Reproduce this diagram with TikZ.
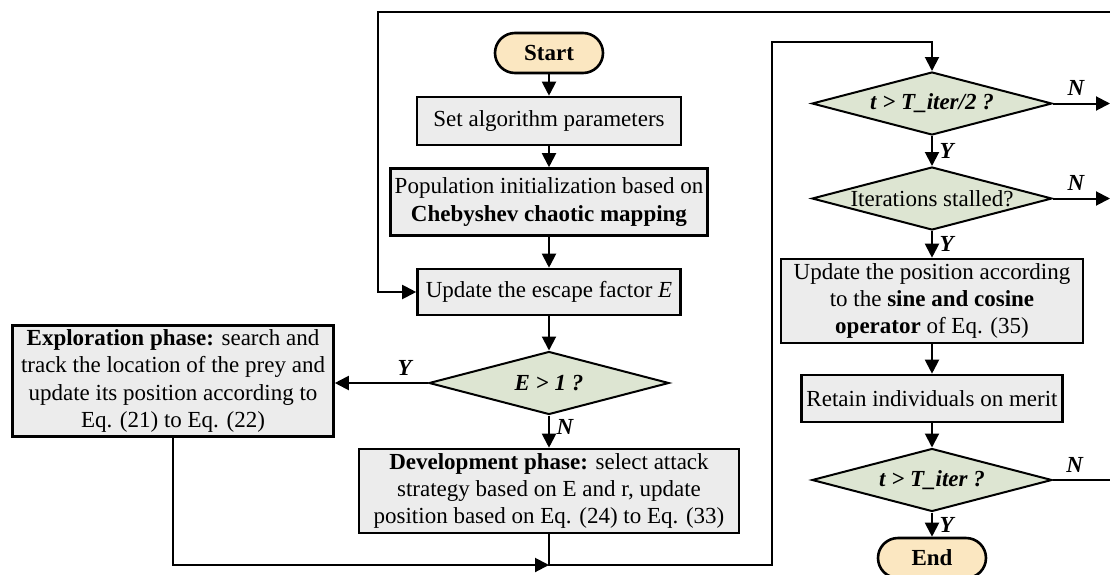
\documentclass[tikz,border=0pt]{standalone}
\usepackage{fontspec}
\setmainfont{Liberation Serif}
\usepackage{tikz}
\usetikzlibrary{arrows.meta,shapes.geometric}
\definecolor{flowtan}{HTML}{FBE7C1}
\definecolor{flowgreen}{HTML}{DDE5D2}
\definecolor{flowgray}{HTML}{ECECEC}

\begin{document}
\begin{tikzpicture}[x=0.5pt,y=-0.5pt,font=\fontsize{11.5}{13.6}\selectfont,
    >={Triangle[length=7pt,width=7pt]},
    line/.style={line width=1pt},
    proc/.style={draw,line width=1.3pt,fill=flowgray,align=center,inner sep=2pt},
    term/.style={draw,line width=1.3pt,fill=flowtan,rounded corners=10pt,minimum width=54pt,minimum height=20pt,font=\fontsize{11.5}{13.6}\selectfont\bfseries},
    test/.style={diamond,draw,line width=1pt,fill=flowgreen,aspect=3.8,inner sep=0pt,minimum width=120pt,minimum height=31.5pt},
    yn/.style={font=\fontsize{11.5}{13.6}\selectfont\bfseries\itshape}]
    \useasboundingbox (0,0) rectangle (1110,574);
    \clip (0,0) rectangle (1110,574);

    \node[term] (start) at (549,53) {Start};
    \node[proc,minimum width=132pt,minimum height=24pt] (setpar) at (549,121) {Set algorithm parameters};
    \node[proc,minimum width=151.5pt,minimum height=33.5pt] (init) at (549,202) {Population initialization based on\\\textbf{Chebyshev chaotic mapping}};
    \node[proc,minimum width=131.5pt,minimum height=23pt] (escape) at (549,292) {Update the escape factor \textit{E}};
    \node[test] (bigE) at (549,383) {\bfseries\itshape E > 1 ?};
    \node[proc,minimum width=160.5pt,minimum height=55pt] (explore) at (173,381) {\textbf{Exploration phase:} search and\\track the location of the prey and\\update its position according to\\Eq. (21) to Eq. (22)};
    \node[proc,minimum width=190pt,minimum height=42pt] (develop) at (549,491) {\textbf{Development phase:} select attack\\strategy based on E and r, update\\position based on Eq. (24) to Eq. (33)};

    \node[test] (half) at (932,103.5) {\bfseries\itshape t > T\_iter/2 ?};
    \node[test] (stall) at (932,198.5) {Iterations stalled?};
    \node[proc,minimum width=151pt,minimum height=42pt] (sincos) at (932,301) {Update the position according\\to the \textbf{sine and cosine}\\\textbf{operator} of Eq. (35)};
    \node[proc,minimum width=130.5pt,minimum height=23.5pt] (retain) at (932,398.5) {Retain individuals on merit};
    \node[test] (done) at (932,480) {\bfseries\itshape t > T\_iter ?};
    \node[term] (stop) at (932,558) {End};

    \coordinate (merge) at (549,565);
    \coordinate (jog) at (772,42);
    \coordinate (rim) at (1110,0);
    \coordinate (back) at (1125,12);
    \coordinate (loop) at (378,12);

    \draw[line,->] (start) -- (setpar);
    \draw[line,->] (setpar) -- (init);
    \draw[line,->] (init) -- (escape);
    \draw[line,->] (escape) -- (bigE);
    \draw[line,->] (bigE) -- node[yn,right,pos=0.35] (lblN0) {N} (develop);
    \draw[line,->] (bigE.west) -- node[yn,above,pos=0.25] (lblY0) {Y} (bigE.west -| explore.east);
    \draw[line,->] (explore.south) |- (merge);
    \draw[line,->] (develop.south) |- (jog |- merge) -- (jog) -| (half.north);

    \draw[line,->] (half.east) -- node[yn,above,pos=0.4] (lblN1) {N} (half.east -| rim);
    \draw[line,->] (half) -- node[yn,right] (lblY1) {Y} (stall);
    \draw[line,->] (stall.east) -- node[yn,above,pos=0.4] (lblN2) {N} (stall.east -| rim);
    \draw[line,->] (stall) -- node[yn,right] (lblY2) {Y} (sincos);
    \draw[line,->] (sincos) -- (retain);
    \draw[line,->] (retain) -- (done);
    \draw[line,->] (done) -- node[yn,right] (lblY3) {Y} (stop);
    \draw[line,->] (done.east) -| node[yn,above,pos=0.15] (lblN3) {N} (back) -- (loop) |- (escape.west);
\end{tikzpicture}
\end{document}
